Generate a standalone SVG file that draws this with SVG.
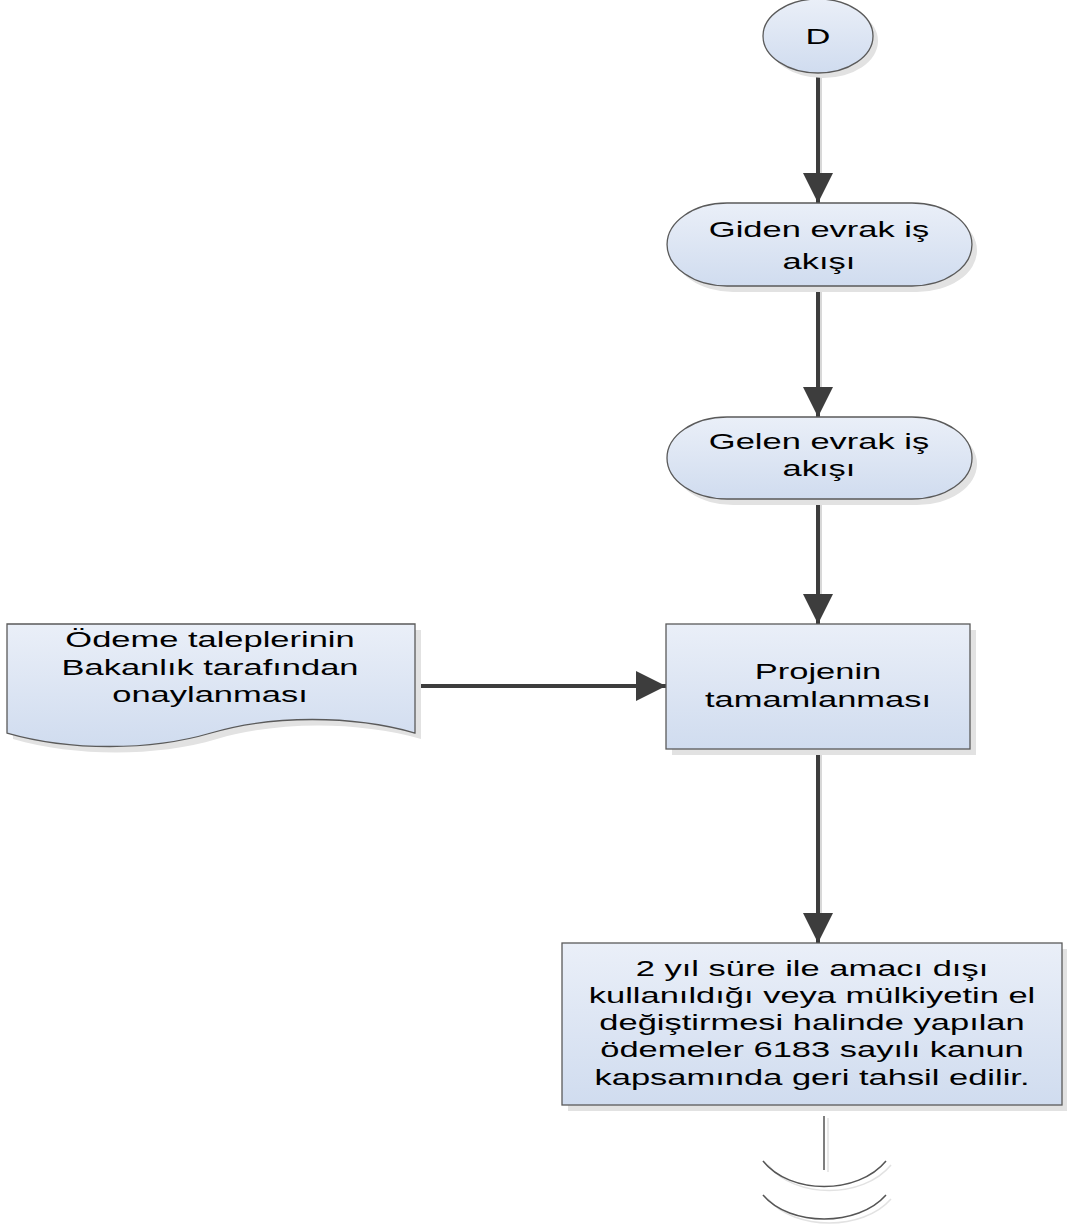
<svg xmlns="http://www.w3.org/2000/svg" width="1067" height="1227" viewBox="0 0 1067 1227">
<defs>
<linearGradient id="fill" x1="0" y1="0" x2="0" y2="1">
<stop offset="0" stop-color="#eaeff8"/>
<stop offset="1" stop-color="#d0dcef"/>
</linearGradient>
<marker id="arr" viewBox="0 0 10 10" refX="10" refY="5" markerWidth="7.5" markerHeight="7.5" markerUnits="strokeWidth" orient="auto">
<path d="M0,0 L10,5 L0,10 Z" fill="#3d3d3d"/>
</marker>
<style>
.shape{fill:url(#fill);stroke:#5a5a5a;stroke-width:1.3}
.shadow{fill:#e2e2e2;stroke:none}
.lbl{font-family:"Liberation Sans",Arial,sans-serif;font-size:23px;fill:#000;text-anchor:middle}
.conn{stroke:#3d3d3d;stroke-width:4;fill:none}
.connsh{stroke:#d8d8d8;stroke-width:2;fill:none}
.off{stroke:#555;stroke-width:1.5;fill:none}
.offsh{stroke:#e2e2e2;stroke-width:1.5;fill:none}
</style>
</defs>
<rect width="1067" height="1227" fill="#fff"/>

<g id="connectors">
<line class="connsh" x1="821" y1="74" x2="821" y2="190"/>
<line class="connsh" x1="821" y1="288" x2="821" y2="404"/>
<line class="connsh" x1="821" y1="501" x2="821" y2="611"/>
<line class="connsh" x1="821" y1="751" x2="821" y2="930"/>
<line class="conn" x1="818" y1="73" x2="818" y2="203" marker-end="url(#arr)"/>
<line class="conn" x1="818" y1="286" x2="818" y2="417" marker-end="url(#arr)"/>
<line class="conn" x1="818" y1="499" x2="818" y2="624" marker-end="url(#arr)"/>
<line class="conn" x1="818" y1="749" x2="818" y2="943" marker-end="url(#arr)"/>
<line class="conn" x1="415" y1="686" x2="666" y2="686" marker-end="url(#arr)"/>
</g>

<g id="node-d">
<ellipse class="shadow" cx="823" cy="41" rx="55" ry="37"/>
<ellipse class="shape" cx="818" cy="36" rx="55" ry="37"/>
<text class="lbl" transform="translate(818,44) scale(1.5,1)">D</text>
</g>

<g id="node-giden">
<path class="shadow" d="M733,209 H917 A60,41.5 0 0 1 917,292 H733 A60,41.5 0 0 1 733,209 Z"/>
<path class="shape" d="M727,203 H912 A60,41.5 0 0 1 912,286 H727 A60,41.5 0 0 1 727,203 Z"/>
<text class="lbl" transform="translate(819,237) scale(1.5,1)"><tspan x="0" y="0">Giden evrak iş</tspan><tspan x="0" y="32">akışı</tspan></text>
</g>

<g id="node-gelen">
<path class="shadow" d="M733,423 H917 A60,41 0 0 1 917,505 H733 A60,41 0 0 1 733,423 Z"/>
<path class="shape" d="M727,417 H912 A60,41 0 0 1 912,499 H727 A60,41 0 0 1 727,417 Z"/>
<text class="lbl" transform="translate(819,449) scale(1.5,1)"><tspan x="0" y="0">Gelen evrak iş</tspan><tspan x="0" y="27">akışı</tspan></text>
</g>

<g id="node-odeme">
<path class="shadow" d="M13,630 H421 V739 C358,721 278,721 217,739 C156,757 76,757 13,739 Z"/>
<path class="shape" d="M7,624 H415 V733 C352,715 272,715 211,733 C150,751 70,751 7,733 Z"/>
<text class="lbl" transform="translate(210,647) scale(1.5,1)"><tspan x="0" y="0">Ödeme taleplerinin</tspan><tspan x="0" y="28">Bakanlık tarafından</tspan><tspan x="0" y="55">onaylanması</tspan></text>
</g>

<g id="node-projenin">
<rect class="shadow" x="672" y="630" width="304" height="125"/>
<rect class="shape" x="666" y="624" width="304" height="125"/>
<text class="lbl" transform="translate(818,679) scale(1.5,1)"><tspan x="0" y="0">Projenin</tspan><tspan x="0" y="28">tamamlanması</tspan></text>
</g>

<g id="node-tahsil">
<rect class="shadow" x="568" y="949" width="500" height="162"/>
<rect class="shape" x="562" y="943" width="500" height="162"/>
<text class="lbl" transform="translate(812,976) scale(1.5,1)"><tspan x="0" y="0">2 yıl süre ile amacı dışı</tspan><tspan x="0" y="27">kullanıldığı veya mülkiyetin el</tspan><tspan x="0" y="54">değiştirmesi halinde yapılan</tspan><tspan x="0" y="81">ödemeler 6183 sayılı kanun</tspan><tspan x="0" y="109">kapsamında geri tahsil edilir.</tspan></text>
</g>

<g id="node-offpage">
<line class="offsh" x1="828" y1="1118" x2="828" y2="1172"/>
<path class="offsh" d="M768,1165 C795,1199 863,1199 891,1165"/>
<path class="offsh" d="M768,1199 C795,1231 863,1231 891,1199"/>
<line class="off" x1="824" y1="1116" x2="824" y2="1170"/>
<path class="off" d="M763,1161 C790,1195 858,1195 886,1161"/>
<path class="off" d="M763,1195 C790,1227 858,1227 886,1195"/>
</g>
</svg>
